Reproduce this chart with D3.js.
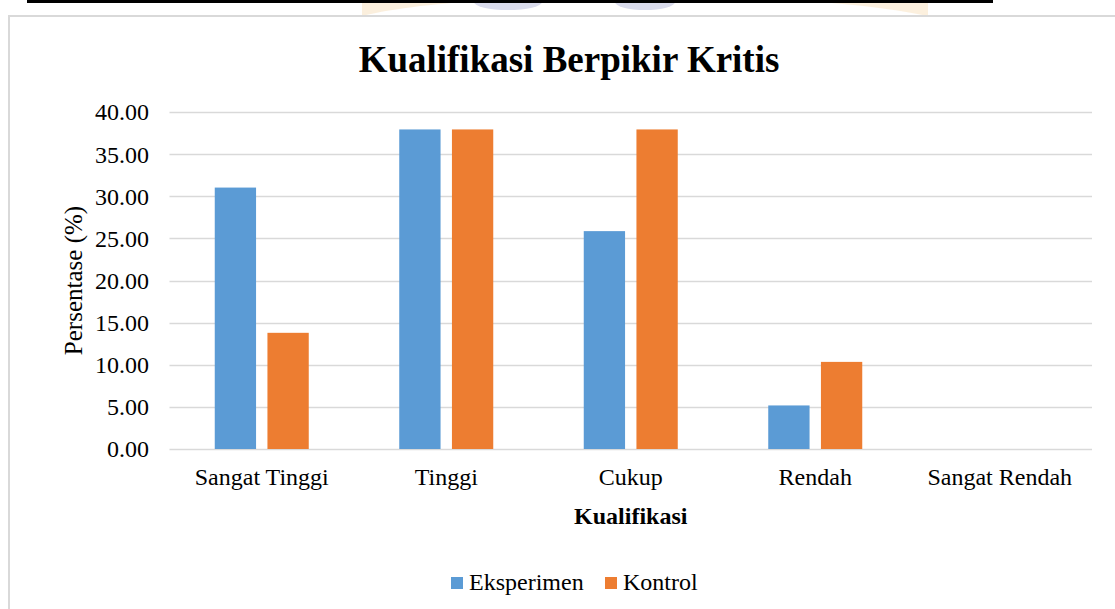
<!DOCTYPE html>
<html>
<head>
<meta charset="utf-8">
<script src="https://cdn.jsdelivr.net/npm/d3@7"></script>
<style>
  html, body { margin: 0; padding: 0; background: #fff; }
  svg { display: block; }
  text { font-family: "Liberation Serif", "Times New Roman", serif; fill: #000; }
</style>
</head>
<body>
<svg id="chart" width="1115" height="609"></svg>
<script>
// ---- data ----
const categories = ["Sangat Tinggi", "Tinggi", "Cukup", "Rendah", "Sangat Rendah"];
const seriesNames = ["Eksperimen", "Kontrol"];
const eksperimen = [31.03, 37.93, 25.86, 5.17, 0];
const kontrol = [13.79, 37.93, 37.93, 10.34, 0];
const yTicks = [0, 5, 10, 15, 20, 25, 30, 35, 40];
const colors = ["#5B9BD5", "#ED7D31"];
const title = "Kualifikasi Berpikir Kritis";
const xTitle = "Kualifikasi";
const yTitle = "Persentase (%)";

const rows = categories.map((c, i) => ({ cat: c, values: [eksperimen[i], kontrol[i]] }));

const svg = d3.select("#chart");
const W = 1115, H = 609;
const plot = { left: 169.5, right: 1092, top: 112, bottom: 449 };

// faint watermark remnants at the top (page background)
const wm = svg.append("g").attr("opacity", 0.25);
wm.append("path")
  .attr("d", "M362,16 C420,2 520,-4 640,-2 C760,-4 860,2 928,16 L928,0 L362,0 Z")
  .attr("fill", "#f2c27a");
wm.append("ellipse").attr("cx", 508).attr("cy", 2).attr("rx", 34).attr("ry", 8).attr("fill", "#6d73b8");
wm.append("ellipse").attr("cx", 645).attr("cy", 2).attr("rx", 30).attr("ry", 8).attr("fill", "#6d73b8");

// black rule at top of page
svg.append("rect").attr("x", 27).attr("y", 0).attr("width", 966).attr("height", 3).attr("fill", "#000");

// chart border
svg.append("path")
  .attr("d", `M9,${H} L9,16 L${W},16`)
  .attr("fill", "none").attr("stroke", "#d9d9d9").attr("stroke-width", 2);

// scales
const x = d3.scaleBand().domain(categories).range([plot.left, plot.right]).paddingInner(0).paddingOuter(0);
const y = d3.scaleLinear().domain([0, 40]).range([plot.bottom, plot.top]);
const groupW = 94;
const xs = d3.scaleBand().domain(seriesNames).range([0, groupW]).paddingInner(0.216).paddingOuter(0);

// gridlines
svg.append("g").selectAll("line").data(yTicks).join("line")
  .attr("x1", plot.left).attr("x2", plot.right)
  .attr("y1", d => Math.round(y(d)) + 0.5).attr("y2", d => Math.round(y(d)) + 0.5)
  .attr("stroke", "#d9d9d9").attr("stroke-width", 1.5);

// y axis labels
const yAxis = d3.axisLeft(y).tickValues(yTicks).tickFormat(d3.format(".2f")).tickSize(0).tickPadding(0);
const gy = svg.append("g").attr("transform", `translate(149,0)`).call(yAxis);
gy.select(".domain").remove();
gy.selectAll("text").attr("font-size", 24).attr("font-family", "Liberation Serif, serif").attr("fill", "#000")
  .attr("dy", "0.33em");

// bars
const groups = svg.append("g").selectAll("g").data(rows).join("g")
  .attr("transform", d => `translate(${x(d.cat) + (x.bandwidth() - groupW) / 2},0)`);
groups.selectAll("rect").data(d => d.values.map((v, i) => ({ v, s: seriesNames[i], i }))).join("rect")
  .attr("x", d => xs(d.s))
  .attr("width", xs.bandwidth())
  .attr("y", d => y(d.v))
  .attr("height", d => y(0) - y(d.v))
  .attr("fill", d => colors[d.i]);

// x axis labels
const xAxis = d3.axisBottom(x).tickSize(0).tickPadding(0);
const gx = svg.append("g").attr("transform", `translate(0,485)`).call(xAxis);
gx.select(".domain").remove();
gx.selectAll("text").attr("font-size", 24).attr("font-family", "Liberation Serif, serif").attr("fill", "#000")
  .attr("dy", 0).attr("y", 0);

// title
svg.append("text").attr("x", 569).attr("y", 72).attr("text-anchor", "middle")
  .attr("font-size", 37).attr("font-weight", "bold").text(title);

// x title
svg.append("text").attr("x", (plot.left + plot.right) / 2).attr("y", 524).attr("text-anchor", "middle")
  .attr("font-size", 24).attr("font-weight", "bold").text(xTitle);

// y title
svg.append("text").attr("transform", `translate(82,${(plot.top + plot.bottom) / 2}) rotate(-90)`)
  .attr("text-anchor", "middle").attr("font-size", 25).text(yTitle);

// legend
const legendItems = [{ name: seriesNames[0], x: 451, tx: 469 }, { name: seriesNames[1], x: 605, tx: 623 }];
const lg = svg.append("g");
lg.selectAll("rect").data(legendItems).join("rect")
  .attr("x", d => d.x).attr("y", 577).attr("width", 12).attr("height", 12)
  .attr("fill", (d, i) => colors[i]);
lg.selectAll("text").data(legendItems).join("text")
  .attr("x", d => d.tx).attr("y", 590).attr("font-size", 24).text(d => d.name);
</script>
</body>
</html>
